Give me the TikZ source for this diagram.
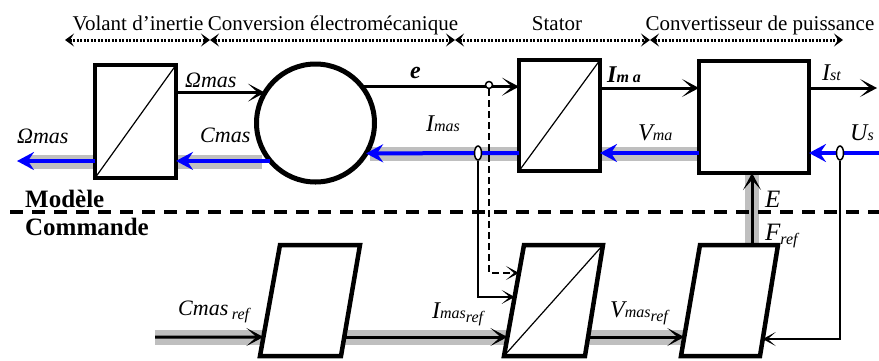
\documentclass[tikz,border=0pt]{standalone}
\usepackage{fontspec}
\setmainfont{Liberation Serif}
\usetikzlibrary{arrows.meta,calc,shapes.geometric}

\newcommand{\smpart}[1]{{\fontsize{16}{16}\selectfont #1}}
\newcommand{\lowpart}[1]{\raisebox{-4pt}{\fontsize{16}{16}\selectfont #1}}

\tikzset{
  blk/.style={draw,line width=4.5pt,fill=white,inner sep=0pt,outer sep=0pt},
  shade/.style={line width=14pt,gray!50},
  sig/.style={line width=3pt,-{Stealth[length=17pt,width=18pt,inset=10pt]}},
  bsig/.style={line width=4pt,blue,-{Stealth[length=17pt,width=18pt,inset=6pt]}},
  meas/.style={line width=2pt,-{Stealth[length=13pt,width=14pt,inset=8pt]}},
  ring/.style={draw,line width=1.5pt,fill=white,inner sep=0pt},
  span/.style={line width=3pt,dash pattern=on 2pt off 1.5pt,
    {Stealth[length=9pt,width=13pt,inset=4pt]}-{Stealth[length=9pt,width=13pt,inset=4pt]}},
  lab/.style={inner sep=0pt,anchor=base west,font=\fontsize{22}{22}\selectfont\itshape},
  head/.style={inner sep=0pt,anchor=base,font=\fontsize{21}{21}\selectfont},
  part/.style={inner sep=0pt,anchor=base west,font=\fontsize{25}{25}\selectfont\bfseries},
}

\begin{document}
\begin{tikzpicture}[x=1pt,y=-1pt]
\useasboundingbox (0,0) rectangle (879,360);

% gray power paths
\draw[shade] (30,162) -- (262,162);
\draw[shade] (370,154) -- (698,154);
\draw[shade] (752,175) -- (752,245);
\draw[shade,line width=15pt] (155,337) -- (690,337);

% model / control border
\draw[line width=4pt,dash pattern=on 13pt off 9pt] (10,212) -- (879,212);
\node[part] (mod) at (25,207) {Modèle};
\node[part] (cmd) at (25,235) {Commande};

% model blocks
\node[blk,minimum width=81pt,minimum height=113pt] (B1) at (135.5,121.5) {};
\draw[line width=1.2pt] (B1.south west) -- (B1.north east);
\node[blk,circle,line width=5pt,minimum size=118pt] (circ) at (315.5,123) {};
\node[blk,minimum width=81pt,minimum height=111pt] (B2) at (559.5,115.5) {};
\draw[line width=1.2pt] (B2.south west) -- (B2.north east);
\node[blk,minimum width=110pt,minimum height=112pt] (B3) at (754,117) {};

% control blocks
\coordinate (L1bl) at (260,356); \coordinate (L1tl) at (280,245);
\coordinate (L1tr) at (360,245); \coordinate (L1br) at (341,356);
\coordinate (L2bl) at (504,356); \coordinate (L2tl) at (524,245);
\coordinate (L2tr) at (603,245); \coordinate (L2br) at (585,356);
\coordinate (L3bl) at (681,356); \coordinate (L3tl) at (700,245);
\coordinate (L3tr) at (778,245); \coordinate (L3br) at (760,356);
\draw[line width=4.5pt,fill=white] (L1bl) -- (L1tl) -- (L1tr) -- (L1br) -- cycle;
\draw[line width=4.5pt,fill=white] (L2bl) -- (L2tl) -- (L2tr) -- (L2br) -- cycle;
\draw[line width=1.2pt] (L2bl) -- (L2tr);
\draw[line width=4.5pt,fill=white] (L3bl) -- (L3tl) -- (L3tr) -- (L3br) -- cycle;

\coordinate (L1in) at ($(L1bl)!0.171!(L1tl)$);
\coordinate (L1out) at ($(L1br)!0.171!(L1tr)$);
\coordinate (L2in) at ($(L2bl)!0.171!(L2tl)$);
\coordinate (L2i) at ($(L2bl)!0.532!(L2tl)$);
\coordinate (L2e) at ($(L2bl)!0.748!(L2tl)$);
\coordinate (L2out) at ($(L2br)!0.171!(L2tr)$);
\coordinate (L3in) at ($(L3bl)!0.171!(L3tl)$);
\coordinate (L3u) at ($(L3br)!0.153!(L3tr)$);
\coordinate (L3top) at ($(L3tl)!0.667!(L3tr)$);

% free ends
\coordinate (outL) at (17,161);
\coordinate (usIn) at (879,153);
\coordinate (istOut) at (877,88);
\coordinate (cref) at (155,337);

% model signals
\draw[sig] (circ.149 -| B1.east) -- (circ.149);
\draw[sig] (circ.38) -- (circ.38 -| B2.west);
\draw[sig] (B2.east |- istOut) -- (B3.west |- istOut);
\draw[sig] (B3.east |- istOut) -- (istOut);
\draw[bsig] (B1.west |- outL) -- (outL);
\draw[bsig] (circ.220) -- (circ.220 -| B1.east);
\draw[bsig] (B2.west |- usIn) -- (circ.-31);
\draw[bsig] (B3.west |- usIn) -- (B2.east |- usIn);
\draw[bsig] (usIn) -- (B3.east |- usIn);
\draw[sig] (L3top) -- (L3top |- B3.south);

% control signals
\draw[sig] (cref) -- (L1in);
\draw[sig] (L1out) -- (L2in);
\draw[sig] (L2out) -- (L3in);

% measures
\node[ring,circle,minimum size=7pt] (pE) at (489,85) {};
\node[ring,ellipse,minimum width=7pt,minimum height=14pt] (pI) at (478,153) {};
\node[ring,ellipse,minimum width=7pt,minimum height=14pt] (pU) at (840,153) {};
\draw[meas,line width=2.5pt,dash pattern=on 7pt off 4pt] (pE.south) -- (pE.south |- L2e) -- (L2e);
\draw[meas] (pI.south) -- (pI.south |- L2i) -- (L2i);
\draw[meas] (pU.south) -- (pU.south |- L3u) -- (L3u);

% domains
\draw[span] (65,40) coordinate (s0) -- (210,40) coordinate (s1);
\draw[span] (s1) -- (455,40) coordinate (s2);
\draw[span] (s2) -- (650,40) coordinate (s3);
\draw[span] (s3) -- (843,40) coordinate (s4);
\node[head] (tVol) at (138,30) {Volant d’inertie};
\node[head] (tConv) at (333,30) {Conversion électromécanique};
\node[head] (tStat) at (557,30) {Stator};
\node[head] (tCvt) at (760,30) {Convertisseur de puissance};

% labels
\node[lab] (lOmT) at (185,87) {Ωmas};
\node[lab] (lOmL) at (17,143) {Ωmas};
\node[lab] (lCm) at (200,142) {Cmas};
\node[lab,font=\fontsize{24}{24}\selectfont\bfseries\itshape] (le) at (410,78) {e};
\node[lab] (lIm) at (426,131) {\fontsize{24}{24}\selectfont I\smpart{mas}};
\node[lab,font=\fontsize{24}{24}\selectfont\bfseries\itshape] (lIma) at (607,82) {I\smpart{m a}};
\node[lab] (lIst) at (822,80) {\fontsize{24}{24}\selectfont I\smpart{st}};
\node[lab] (lVma) at (638,140) {\fontsize{24}{24}\selectfont V\smpart{ma}};
\node[lab] (lUs) at (850,140) {\fontsize{24}{24}\selectfont U\smpart{s}};
\node[lab] (lE) at (765,207) {\fontsize{25}{25}\selectfont E};
\node[lab] (lF) at (765,240) {\fontsize{25}{25}\selectfont F\lowpart{ref}};
\node[lab] (lCr) at (178,315) {Cmas\,\lowpart{ref}};
\node[lab] (lIr) at (432,318) {\fontsize{24}{24}\selectfont I\smpart{mas}\lowpart{ref}};
\node[lab] (lVr) at (610,317) {\fontsize{24}{24}\selectfont V\smpart{mas}\lowpart{ref}};
\end{tikzpicture}
\end{document}
